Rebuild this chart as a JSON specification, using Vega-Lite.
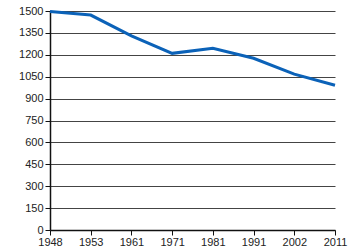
{
  "$schema": "https://vega.github.io/schema/vega-lite/v6.json",
  "width": 285,
  "height": 219,
  "autosize": {"type": "none"},
  "padding": {"left": 50, "top": 11, "right": 15, "bottom": 20},
  "background": "white",
  "config": {
    "view": {"stroke": null},
    "axis": {"labelFont": "Liberation Sans", "labelFontSize": 11, "labelColor": "#222", "domainColor": "#111", "tickColor": "#111", "title": null}
  },
  "data": {"values": [
    {"year": "1948", "value": 1497},
    {"year": "1953", "value": 1472},
    {"year": "1961", "value": 1330},
    {"year": "1971", "value": 1210},
    {"year": "1981", "value": 1245},
    {"year": "1991", "value": 1176},
    {"year": "2002", "value": 1068},
    {"year": "2011", "value": 991}
  ]},
  "mark": {"type": "line", "color": "#0b62b8", "strokeWidth": 3},
  "encoding": {
    "x": {"field": "year", "type": "ordinal", "scale": {"type": "point", "padding": 0},
      "axis": {"labelAngle": 0, "grid": false, "tickSize": 5, "labelPadding": 1, "domainWidth": 1.5}},
    "y": {"field": "value", "type": "quantitative", "scale": {"domain": [0, 1500], "nice": false},
      "axis": {"values": [0,150,300,450,600,750,900,1050,1200,1350,1500], "format": "d", "grid": true, "gridColor": "#444", "gridOpacity": 1, "tickSize": 5, "labelPadding": 2, "domainWidth": 1.5}}
  }
}
